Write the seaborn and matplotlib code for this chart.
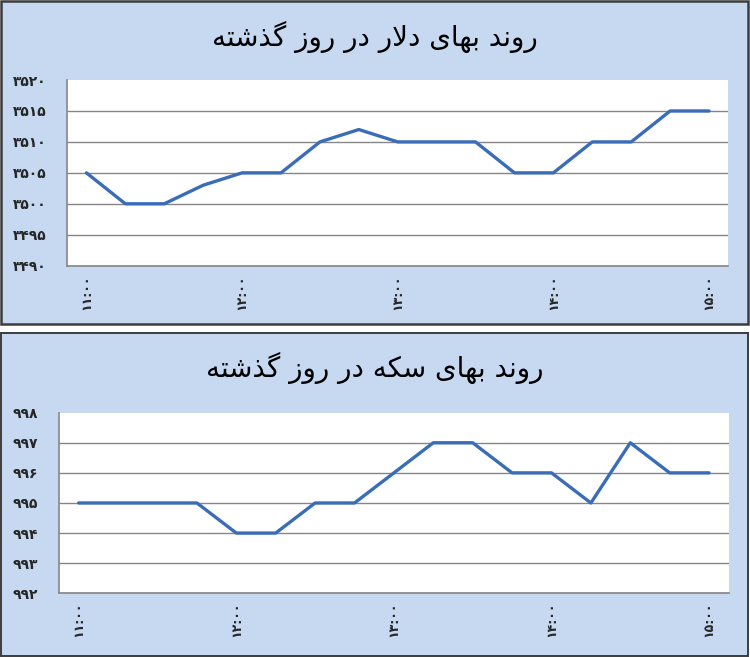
import matplotlib
matplotlib.use("Agg")
import matplotlib.pyplot as plt
import seaborn as sns
import numpy as np
import pandas as pd
from matplotlib.patches import Rectangle
from matplotlib.ticker import FixedLocator, FuncFormatter

# Data (15 minute steps over the trading day)
times = ["11:00", "11:15", "11:30", "11:45", "12:00", "12:15", "12:30", "12:45", "13:00",
         "13:15", "13:30", "13:45", "14:00", "14:15", "14:30", "14:45", "15:00"]
dollar = [3505, 3500, 3500, 3503, 3505, 3505, 3510, 3512, 3510, 3510, 3510, 3505, 3505,
          3510, 3510, 3515, 3515]
coin = [995, 995, 995, 995, 994, 994, 995, 995, 996, 997, 997, 996, 996, 995, 997, 996, 996]

title_dollar = "روند بهای دلار در روز گذشته"
title_coin = "روند بهای سکه در روز گذشته"

BG = "#C6D9F1"
LINE = "#3A6DB8"
GRID = "#868686"

# Minimal Persian shaping (matplotlib has no bidi / joining support)
FORMS = {  # isol, fina, init, medi
    "ا": ("\uFE8D", "\uFE8E", None, None),
    "ب": ("\uFE8F", "\uFE90", "\uFE91", "\uFE92"),
    "ت": ("\uFE95", "\uFE96", "\uFE97", "\uFE98"),
    "د": ("\uFEA9", "\uFEAA", None, None),
    "ذ": ("\uFEAB", "\uFEAC", None, None),
    "ر": ("\uFEAD", "\uFEAE", None, None),
    "ز": ("\uFEAF", "\uFEB0", None, None),
    "س": ("\uFEB1", "\uFEB2", "\uFEB3", "\uFEB4"),
    "ش": ("\uFEB5", "\uFEB6", "\uFEB7", "\uFEB8"),
    "ل": ("\uFEDD", "\uFEDE", "\uFEDF", "\uFEE0"),
    "ن": ("\uFEE5", "\uFEE6", "\uFEE7", "\uFEE8"),
    "ه": ("\uFEE9", "\uFEEA", "\uFEEB", "\uFEEC"),
    "و": ("\uFEED", "\uFEEE", None, None),
    "ی": ("\uFBFC", "\uFBFD", "\uFBFE", "\uFBFF"),
    "ک": ("\uFB8E", "\uFB8F", "\uFB90", "\uFB91"),
    "گ": ("\uFB92", "\uFB93", "\uFB94", "\uFB95"),
}


def dual(c):
    return c in FORMS and FORMS[c][2] is not None


def shape(text):
    out = []
    i = 0
    while i < len(text):
        c = text[i]
        if c not in FORMS:
            out.append(c)
            i += 1
            continue
        prev = text[i - 1] if i > 0 else " "
        joins_prev = dual(prev)
        if c == "ل" and i + 1 < len(text) and text[i + 1] == "ا":
            out.append("\uFEFC" if joins_prev else "\uFEFB")
            i += 2
            continue
        nxt = text[i + 1] if i + 1 < len(text) else " "
        joins_next = dual(c) and nxt in FORMS
        isol, fina, init, medi = FORMS[c]
        if joins_prev and joins_next:
            out.append(medi)
        elif joins_prev:
            out.append(fina)
        elif joins_next:
            out.append(init)
        else:
            out.append(isol)
        i += 1
    return "".join(out)[::-1]


def fa_digits(s):
    return str(s).translate(str.maketrans("0123456789", "۰۱۲۳۴۵۶۷۸۹"))


sns.set_style("white")
plt.rcParams["font.family"] = ["DejaVu Sans"]

fig = plt.figure(figsize=(7.5, 6.57), dpi=100)
fig.patch.set_facecolor("white")

# panel backgrounds
fig.add_artist(Rectangle((0.0015, 0.507), 0.996, 0.4915, transform=fig.transFigure,
                         facecolor=BG, edgecolor="#3C3C3C", lw=1.8, zorder=0))
fig.add_artist(Rectangle((0.0015, 0.0015), 0.996, 0.4915, transform=fig.transFigure,
                         facecolor=BG, edgecolor="#3C3C3C", lw=1.4, zorder=0))

ax1 = fig.add_axes([0.0893, 0.5956, 0.882, 0.2826])
ax2 = fig.add_axes([0.0787, 0.097, 0.893, 0.2749])

panels = [
    (ax1, dollar, (3490, 3520), np.arange(3490, 3521, 5), title_dollar, 0.944),
    (ax2, coin, (992, 998), np.arange(992, 999, 1), title_coin, 0.44),
]

for ax, values, ylim, yticks, title, ty in panels:
    df = pd.DataFrame({"pos": range(len(times)), "price": values})
    sns.lineplot(data=df, x="pos", y="price", ax=ax, color=LINE, lw=2.4, sort=False)
    ax.set_facecolor("white")
    ax.set_xlim(-0.5, len(times) - 0.5)
    ax.set_ylim(*ylim)
    ax.set_yticks(yticks)
    ax.yaxis.set_major_formatter(FuncFormatter(lambda v, p: fa_digits(int(round(v)))))
    ax.grid(axis="y", color=GRID, lw=1)
    ax.get_ygridlines()[-1].set_visible(False)
    for s in ["top", "right"]:
        ax.spines[s].set_visible(False)
    for s in ["left", "bottom"]:
        ax.spines[s].set_color(GRID)
        ax.spines[s].set_linewidth(1.2)
    major = list(range(0, len(times), 4))
    ax.xaxis.set_major_locator(FixedLocator(major))
    ax.set_xticklabels([fa_digits(times[i]) for i in major], rotation=90,
                       fontsize=9, fontweight="bold")
    ax.xaxis.set_minor_locator(FixedLocator(np.arange(-0.5, len(times), 1)))
    ax.tick_params(axis="x", which="major", length=0, pad=6)
    ax.tick_params(axis="x", which="minor", direction="out", length=5, color=GRID, width=1)
    ax.tick_params(axis="y", direction="out", length=5, color=GRID, width=1, pad=10,
                   labelsize=10)
    for lab in ax.get_yticklabels():
        lab.set_fontweight("bold")
    ax.set_xlabel("")
    ax.set_ylabel("")
    fig.text(0.5, ty, shape(title), ha="center", va="center", fontsize=20, color="black")

fig.savefig("out.png", dpi=100)
